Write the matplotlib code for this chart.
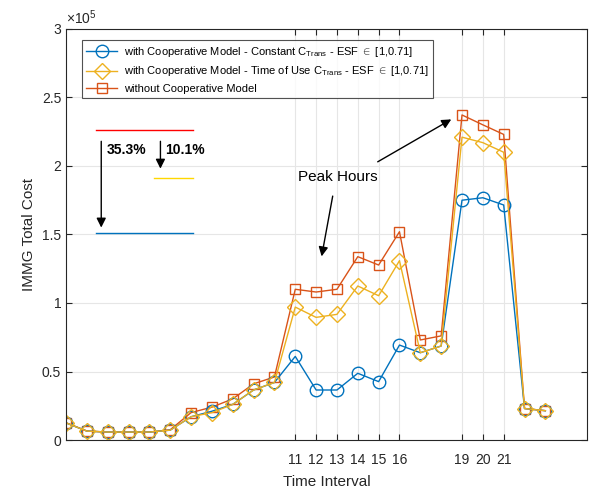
import matplotlib.pyplot as plt
import numpy as np

plt.rcParams['font.family'] = ['Liberation Sans', 'DejaVu Sans']
plt.rcParams['mathtext.fontset'] = 'custom'
plt.rcParams['mathtext.rm'] = 'Liberation Sans'
plt.rcParams['mathtext.it'] = 'Liberation Sans'

# Intervalos de tiempo y costos (x 1e5)
t = np.arange(24)
const_coop = [0.125, 0.065, 0.058, 0.058, 0.058, 0.072, 0.17, 0.21, 0.26, 0.365, 0.42,
              0.61, 0.365, 0.365, 0.487, 0.426, 0.693, 0.637, 0.686,
              1.75, 1.768, 1.715, 0.23, 0.214]
tou_coop = [0.125, 0.065, 0.058, 0.058, 0.058, 0.072, 0.17, 0.20, 0.26, 0.365, 0.42,
            0.97, 0.895, 0.917, 1.124, 1.053, 1.309, 0.637, 0.686,
            2.21, 2.17, 2.10, 0.23, 0.214]
no_coop = [0.126, 0.066, 0.058, 0.058, 0.058, 0.075, 0.20, 0.24, 0.30, 0.41, 0.46,
           1.10, 1.08, 1.10, 1.338, 1.277, 1.52, 0.73, 0.76,
           2.372, 2.30, 2.23, 0.23, 0.214]

xticks = [11, 12, 13, 14, 15, 16, 19, 20, 21]

c_blue = '#0072BD'
c_orange = '#D95319'
c_yellow = '#EDB120'

fig = plt.figure(figsize=(5.9, 4.9), dpi=100)
ax = fig.add_axes([0.1119, 0.102, 0.8831, 0.839])

l3, = ax.plot(t, no_coop, '-s', color=c_orange, lw=1, ms=7, mfc='none', mew=1,
              label='without Cooperative Model')
l1, = ax.plot(t, const_coop, '-o', color=c_blue, lw=1, ms=9, mfc='none', mew=1,
              label=r'with Cooperative Model - Constant C$_{\mathrm{Trans}}$ - ESF $\in$ [1,0.71]')
l2, = ax.plot(t, tou_coop, '-D', color=c_yellow, lw=1, ms=8, mfc='none', mew=1,
              label=r'with Cooperative Model - Time of Use C$_{\mathrm{Trans}}$ - ESF $\in$ [1,0.71]')

# lineas de referencia
ax.plot([1.45, 6.1], [2.26, 2.26], color='red', lw=1)
ax.plot([4.24, 6.1], [1.91, 1.91], color='#FFD700', lw=1)
ax.plot([1.45, 6.1], [1.51, 1.51], color=c_blue, lw=1)

ax.annotate('', xy=(1.69, 1.53), xytext=(1.69, 2.20),
            arrowprops=dict(arrowstyle='-|>', color='black', lw=1, mutation_scale=14))
ax.annotate('', xy=(4.53, 1.96), xytext=(4.53, 2.20),
            arrowprops=dict(arrowstyle='-|>', color='black', lw=1, mutation_scale=14))
ax.text(1.93, 2.12, '35.3%', fontsize=10, fontweight='bold', va='center')
ax.text(4.77, 2.12, '10.1%', fontsize=10, fontweight='bold', va='center')

ax.text(11.13, 1.92, 'Peak Hours', fontsize=11, va='center')
ax.annotate('', xy=(12.24, 1.32), xytext=(12.82, 1.80),
            arrowprops=dict(arrowstyle='-|>', color='black', lw=1, mutation_scale=14))
ax.annotate('', xy=(18.6, 2.35), xytext=(14.84, 2.02),
            arrowprops=dict(arrowstyle='-|>', color='black', lw=1, mutation_scale=14))

ax.set_xlim(0, 25)
ax.set_ylim(0, 3)
ax.set_xticks(xticks)
ax.set_yticks([0, 0.5, 1, 1.5, 2, 2.5, 3])
ax.set_yticklabels(['0', '0.5', '1', '1.5', '2', '2.5', '3'])
ax.tick_params(direction='in', length=4, labelsize=10, colors='#262626', top=True, right=True)
ax.tick_params(axis='x', pad=9)
ax.grid(True, color='#E6E6E6', lw=0.8)
ax.set_axisbelow(True)
for s in ax.spines.values():
    s.set_color('#262626')

ax.set_xlabel('Time Interval', fontsize=11, color='#262626', labelpad=6)
ax.set_ylabel('IMMG Total Cost', fontsize=11, color='#262626')
ax.text(0, 1.004, r'$\times10^5$', transform=ax.transAxes, fontsize=10,
        color='#262626', va='bottom')

leg = ax.legend(handles=[l1, l2, l3], loc='upper left', bbox_to_anchor=(0.03, 0.972),
                fontsize=8, frameon=True, fancybox=False, edgecolor='#262626',
                borderaxespad=0, handlelength=2.8, handletextpad=0.6, labelspacing=0.5)
leg.get_frame().set_linewidth(0.8)

fig.savefig('out.png', dpi=100)
